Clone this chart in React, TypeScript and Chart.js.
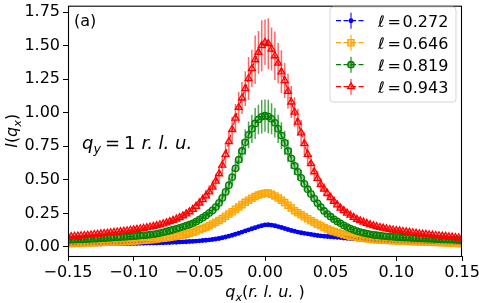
import React, { useEffect, useRef } from "react";
import { Chart, registerables } from "chart.js";

Chart.register(...registerables);

// q_x grid (r.l.u.)
const qx = [
  -0.15, -0.1475, -0.145, -0.1425, -0.14, -0.1375, -0.135, -0.1325, -0.13, -0.1275,
  -0.125, -0.1225, -0.12, -0.1175, -0.115, -0.1125, -0.11, -0.1075, -0.105, -0.1025,
  -0.1, -0.0975, -0.095, -0.0925, -0.09, -0.0875, -0.085, -0.0825, -0.08, -0.0775,
  -0.075, -0.0725, -0.07, -0.0675, -0.065, -0.0625, -0.06, -0.0575, -0.055, -0.0525,
  -0.05, -0.0475, -0.045, -0.0425, -0.04, -0.0375, -0.035, -0.0325, -0.03, -0.0275,
  -0.025, -0.0225, -0.02, -0.0175, -0.015, -0.0125, -0.01, -0.0075, -0.005, -0.0025,
  0,
  0.0025, 0.005, 0.0075, 0.01, 0.0125, 0.015, 0.0175, 0.02, 0.0225, 0.025,
  0.0275, 0.03, 0.0325, 0.035, 0.0375, 0.04, 0.0425, 0.045, 0.0475, 0.05,
  0.0525, 0.055, 0.0575, 0.06, 0.0625, 0.065, 0.0675, 0.07, 0.0725, 0.075,
  0.0775, 0.08, 0.0825, 0.085, 0.0875, 0.09, 0.0925, 0.095, 0.0975, 0.1,
  0.1025, 0.105, 0.1075, 0.11, 0.1125, 0.115, 0.1175, 0.12, 0.1225, 0.125,
  0.1275, 0.13, 0.1325, 0.135, 0.1375, 0.14, 0.1425, 0.145, 0.1475, 0.15,
];

// l = 0.272
const I272 = [
  0.020, 0.020, 0.020, 0.021, 0.021, 0.021, 0.021, 0.022, 0.022, 0.022,
  0.022, 0.023, 0.023, 0.023, 0.024, 0.024, 0.024, 0.025, 0.025, 0.025,
  0.026, 0.026, 0.027, 0.027, 0.028, 0.028, 0.029, 0.029, 0.030, 0.031,
  0.032, 0.033, 0.034, 0.035, 0.036, 0.037, 0.038, 0.040, 0.041, 0.043,
  0.045, 0.047, 0.049, 0.052, 0.055, 0.059, 0.063, 0.068, 0.074, 0.080,
  0.087, 0.094, 0.102, 0.110, 0.119, 0.127, 0.135, 0.143, 0.151, 0.158,
  0.164,
  0.165, 0.162, 0.157, 0.151, 0.144, 0.137, 0.130, 0.122, 0.116, 0.110,
  0.105, 0.101, 0.097, 0.093, 0.089, 0.085, 0.082, 0.079, 0.077, 0.075,
  0.073, 0.071, 0.069, 0.066, 0.064, 0.062, 0.060, 0.058, 0.056, 0.054,
  0.053, 0.051, 0.050, 0.049, 0.048, 0.047, 0.046, 0.045, 0.044, 0.043,
  0.042, 0.041, 0.041, 0.040, 0.039, 0.038, 0.038, 0.037, 0.036, 0.035,
  0.035, 0.034, 0.033, 0.033, 0.032, 0.031, 0.031, 0.030, 0.029, 0.028,
];
const E272 = [
  0.003, 0.003, 0.003, 0.003, 0.003, 0.003, 0.003, 0.003, 0.003, 0.003,
  0.003, 0.003, 0.003, 0.003, 0.003, 0.003, 0.003, 0.003, 0.003, 0.003,
  0.003, 0.003, 0.003, 0.003, 0.003, 0.003, 0.003, 0.003, 0.003, 0.003,
  0.003, 0.003, 0.003, 0.003, 0.003, 0.003, 0.003, 0.003, 0.003, 0.003,
  0.003, 0.003, 0.003, 0.003, 0.003, 0.006, 0.006, 0.006, 0.006, 0.006,
  0.006, 0.006, 0.006, 0.006, 0.006, 0.006, 0.006, 0.006, 0.006, 0.006,
  0.008,
  0.006, 0.006, 0.006, 0.006, 0.006, 0.006, 0.006, 0.006, 0.006, 0.006,
  0.006, 0.006, 0.006, 0.006, 0.006, 0.003, 0.003, 0.003, 0.003, 0.003,
  0.003, 0.003, 0.003, 0.003, 0.003, 0.003, 0.003, 0.003, 0.003, 0.003,
  0.003, 0.003, 0.003, 0.003, 0.003, 0.003, 0.003, 0.003, 0.003, 0.003,
  0.003, 0.003, 0.003, 0.003, 0.003, 0.003, 0.003, 0.003, 0.003, 0.003,
  0.003, 0.003, 0.003, 0.003, 0.003, 0.003, 0.003, 0.003, 0.003, 0.003,
];

// l = 0.646
const I646 = [
  0.025, 0.026, 0.026, 0.027, 0.028, 0.029, 0.029, 0.030, 0.031, 0.032,
  0.033, 0.034, 0.035, 0.036, 0.037, 0.038, 0.039, 0.040, 0.041, 0.043,
  0.044, 0.046, 0.048, 0.050, 0.052, 0.054, 0.056, 0.059, 0.062, 0.065,
  0.068, 0.072, 0.076, 0.080, 0.084, 0.089, 0.095, 0.102, 0.110, 0.119,
  0.128, 0.137, 0.147, 0.158, 0.170, 0.183, 0.197, 0.212, 0.228, 0.245,
  0.262, 0.280, 0.298, 0.315, 0.332, 0.348, 0.362, 0.375, 0.386, 0.395,
  0.400,
  0.401, 0.392, 0.380, 0.365, 0.348, 0.330, 0.310, 0.290, 0.270, 0.255,
  0.240, 0.225, 0.210, 0.195, 0.182, 0.169, 0.157, 0.145, 0.134, 0.124,
  0.115, 0.107, 0.099, 0.092, 0.086, 0.080, 0.075, 0.071, 0.067, 0.064,
  0.061, 0.058, 0.056, 0.054, 0.052, 0.050, 0.049, 0.047, 0.046, 0.045,
  0.044, 0.043, 0.042, 0.041, 0.040, 0.039, 0.038, 0.037, 0.036, 0.035,
  0.034, 0.033, 0.032, 0.031, 0.030, 0.029, 0.028, 0.027, 0.026, 0.025,
];
const E646 = [
  0.005, 0.005, 0.005, 0.005, 0.005, 0.005, 0.005, 0.005, 0.005, 0.005,
  0.005, 0.005, 0.005, 0.005, 0.005, 0.005, 0.005, 0.005, 0.005, 0.005,
  0.005, 0.005, 0.005, 0.005, 0.005, 0.005, 0.005, 0.005, 0.005, 0.005,
  0.005, 0.005, 0.005, 0.005, 0.005, 0.005, 0.005, 0.005, 0.005, 0.005,
  0.008, 0.008, 0.010, 0.010, 0.012, 0.012, 0.014, 0.015, 0.016, 0.018,
  0.019, 0.020, 0.022, 0.023, 0.024, 0.025, 0.026, 0.027, 0.028, 0.028,
  0.030,
  0.030, 0.028, 0.028, 0.027, 0.026, 0.025, 0.024, 0.023, 0.022, 0.020,
  0.019, 0.018, 0.016, 0.015, 0.014, 0.012, 0.012, 0.010, 0.010, 0.008,
  0.008, 0.005, 0.005, 0.005, 0.005, 0.005, 0.005, 0.005, 0.005, 0.005,
  0.005, 0.005, 0.005, 0.005, 0.005, 0.005, 0.005, 0.005, 0.005, 0.005,
  0.005, 0.005, 0.005, 0.005, 0.005, 0.005, 0.005, 0.005, 0.005, 0.005,
  0.005, 0.005, 0.005, 0.005, 0.005, 0.005, 0.005, 0.005, 0.005, 0.005,
];

// l = 0.819
const I819 = [
  0.052, 0.053, 0.054, 0.055, 0.056, 0.057, 0.058, 0.059, 0.061, 0.062,
  0.064, 0.065, 0.067, 0.068, 0.070, 0.071, 0.073, 0.074, 0.076, 0.078,
  0.080, 0.082, 0.084, 0.086, 0.088, 0.091, 0.094, 0.098, 0.103, 0.109,
  0.115, 0.121, 0.128, 0.135, 0.142, 0.150, 0.158, 0.166, 0.176, 0.188,
  0.203, 0.218, 0.234, 0.252, 0.272, 0.297, 0.328, 0.365, 0.410, 0.460,
  0.520, 0.585, 0.650, 0.715, 0.780, 0.835, 0.880, 0.920, 0.950, 0.970,
  0.978,
  0.972, 0.955, 0.925, 0.880, 0.830, 0.775, 0.715, 0.660, 0.605, 0.560,
  0.515, 0.470, 0.430, 0.395, 0.360, 0.325, 0.297, 0.268, 0.245, 0.225,
  0.206, 0.190, 0.176, 0.160, 0.148, 0.137, 0.127, 0.118, 0.111, 0.104,
  0.099, 0.094, 0.090, 0.087, 0.084, 0.081, 0.079, 0.077, 0.075, 0.073,
  0.072, 0.070, 0.069, 0.068, 0.066, 0.065, 0.064, 0.063, 0.061, 0.060,
  0.059, 0.058, 0.057, 0.056, 0.055, 0.054, 0.053, 0.052, 0.051, 0.050,
];
const E819 = [
  0.008, 0.008, 0.008, 0.008, 0.008, 0.008, 0.008, 0.008, 0.008, 0.008,
  0.008, 0.008, 0.008, 0.008, 0.008, 0.008, 0.008, 0.008, 0.008, 0.008,
  0.008, 0.008, 0.008, 0.008, 0.008, 0.008, 0.008, 0.008, 0.010, 0.010,
  0.012, 0.012, 0.014, 0.014, 0.016, 0.016, 0.018, 0.020, 0.022, 0.024,
  0.026, 0.028, 0.030, 0.032, 0.035, 0.038, 0.042, 0.046, 0.050, 0.056,
  0.062, 0.070, 0.078, 0.086, 0.095, 0.100, 0.105, 0.115, 0.110, 0.125,
  0.120,
  0.125, 0.115, 0.110, 0.105, 0.100, 0.090, 0.085, 0.078, 0.070, 0.064,
  0.058, 0.052, 0.047, 0.043, 0.039, 0.035, 0.032, 0.029, 0.026, 0.024,
  0.022, 0.020, 0.018, 0.016, 0.015, 0.014, 0.013, 0.012, 0.011, 0.010,
  0.010, 0.010, 0.008, 0.008, 0.008, 0.008, 0.008, 0.008, 0.008, 0.008,
  0.008, 0.008, 0.008, 0.008, 0.008, 0.008, 0.008, 0.008, 0.008, 0.008,
  0.008, 0.008, 0.008, 0.008, 0.008, 0.008, 0.008, 0.008, 0.008, 0.008,
];

// l = 0.943
const I943 = [
  0.075, 0.077, 0.079, 0.081, 0.083, 0.085, 0.087, 0.089, 0.092, 0.094,
  0.097, 0.099, 0.102, 0.105, 0.108, 0.111, 0.114, 0.117, 0.120, 0.124,
  0.127, 0.131, 0.135, 0.139, 0.143, 0.148, 0.153, 0.159, 0.165, 0.172,
  0.179, 0.188, 0.198, 0.208, 0.219, 0.232, 0.246, 0.262, 0.280, 0.302,
  0.327, 0.353, 0.380, 0.410, 0.445, 0.490, 0.545, 0.610, 0.690, 0.785,
  0.875, 0.960, 1.040, 1.110, 1.180, 1.255, 1.330, 1.395, 1.450, 1.500,
  1.525,
  1.515, 1.475, 1.425, 1.370, 1.305, 1.240, 1.160, 1.080, 1.005, 0.930,
  0.850, 0.770, 0.690, 0.620, 0.560, 0.510, 0.465, 0.430, 0.398, 0.368,
  0.340, 0.313, 0.290, 0.270, 0.252, 0.236, 0.220, 0.206, 0.195, 0.185,
  0.175, 0.166, 0.158, 0.151, 0.145, 0.140, 0.135, 0.130, 0.126, 0.122,
  0.119, 0.115, 0.112, 0.108, 0.105, 0.102, 0.098, 0.095, 0.093, 0.090,
  0.088, 0.085, 0.083, 0.080, 0.078, 0.075, 0.073, 0.070, 0.068, 0.065,
];
const E943 = [
  0.010, 0.010, 0.010, 0.010, 0.010, 0.010, 0.010, 0.010, 0.010, 0.010,
  0.010, 0.010, 0.010, 0.010, 0.010, 0.010, 0.010, 0.010, 0.010, 0.010,
  0.015, 0.015, 0.015, 0.015, 0.015, 0.015, 0.015, 0.015, 0.015, 0.015,
  0.015, 0.015, 0.020, 0.020, 0.025, 0.025, 0.030, 0.030, 0.030, 0.035,
  0.035, 0.040, 0.045, 0.050, 0.050, 0.055, 0.060, 0.070, 0.075, 0.085,
  0.095, 0.105, 0.115, 0.120, 0.130, 0.160, 0.140, 0.180, 0.160, 0.190,
  0.170,
  0.190, 0.160, 0.180, 0.150, 0.160, 0.130, 0.130, 0.120, 0.110, 0.100,
  0.095, 0.085, 0.075, 0.065, 0.060, 0.055, 0.050, 0.045, 0.040, 0.040,
  0.035, 0.030, 0.030, 0.030, 0.025, 0.025, 0.020, 0.020, 0.020, 0.020,
  0.018, 0.016, 0.015, 0.015, 0.015, 0.015, 0.015, 0.015, 0.015, 0.015,
  0.012, 0.012, 0.012, 0.012, 0.012, 0.012, 0.012, 0.012, 0.012, 0.012,
  0.010, 0.010, 0.010, 0.010, 0.010, 0.010, 0.010, 0.010, 0.010, 0.010,
];

const ellValues = ["0.272", "0.646", "0.819", "0.943"];
const xTicks = [-0.15, -0.1, -0.05, 0, 0.05, 0.1, 0.15];
const yTicks = [0, 0.25, 0.5, 0.75, 1, 1.25, 1.5, 1.75];

const FONT = '"DejaVu Sans", sans-serif';

type Piece = { t: string; italic?: boolean; sub?: boolean; dx?: number };

function pieceFont(p: Piece, size: number) {
  return `${p.italic ? "italic " : ""}${p.sub ? size * 0.7 : size}px ${FONT}`;
}

function measureMath(ctx: CanvasRenderingContext2D, pieces: Piece[], size: number) {
  let w = 0;
  for (const p of pieces) {
    ctx.font = pieceFont(p, size);
    w += (p.dx || 0) + ctx.measureText(p.t).width;
  }
  return w;
}

function drawMath(ctx: CanvasRenderingContext2D, pieces: Piece[], x: number, y: number, size: number) {
  let cx = x;
  ctx.textAlign = "left";
  ctx.textBaseline = "alphabetic";
  for (const p of pieces) {
    ctx.font = pieceFont(p, size);
    cx += p.dx || 0;
    ctx.fillText(p.t, cx, y + (p.sub ? size * 0.22 : 0));
    cx += ctx.measureText(p.t).width;
  }
}

function drawMarker(
  ctx: CanvasRenderingContext2D,
  style: string,
  x: number,
  y: number,
  r: number,
  stroke: string,
  fill: string,
  lw: number
) {
  ctx.beginPath();
  if (style === "rect") {
    const s = Math.SQRT1_2 * r;
    ctx.rect(x - s, y - s, 2 * s, 2 * s);
  } else if (style === "triangle") {
    const a = (2 * Math.PI) / 3;
    ctx.moveTo(x, y - r);
    ctx.lineTo(x + Math.sin(a) * r, y - Math.cos(a) * r);
    ctx.lineTo(x + Math.sin(2 * a) * r, y - Math.cos(2 * a) * r);
    ctx.closePath();
  } else {
    ctx.arc(x, y, r, 0, Math.PI * 2);
  }
  ctx.fillStyle = fill;
  ctx.fill();
  ctx.strokeStyle = stroke;
  ctx.lineWidth = lw;
  ctx.stroke();
}

const errorBarPlugin = {
  id: "errorBars",
  beforeDatasetDraw(chart: any, args: any) {
    const ds = chart.data.datasets[args.index];
    const errs: number[] = ds.errors;
    if (!errs) return;
    const { ctx, chartArea } = chart;
    const xs = chart.scales.x;
    const ys = chart.scales.y;
    ctx.save();
    ctx.beginPath();
    ctx.rect(chartArea.left, chartArea.top, chartArea.right - chartArea.left, chartArea.bottom - chartArea.top);
    ctx.clip();
    ctx.strokeStyle = ds.ebColor;
    ctx.lineWidth = ds.ebWidth;
    ctx.setLineDash([]);
    ds.data.forEach((p: { x: number; y: number }, i: number) => {
      const px = xs.getPixelForValue(p.x);
      ctx.beginPath();
      ctx.moveTo(px, ys.getPixelForValue(p.y - errs[i]));
      ctx.lineTo(px, ys.getPixelForValue(p.y + errs[i]));
      ctx.stroke();
    });
    ctx.restore();
  },
};

const decorPlugin = {
  id: "decor",
  afterDatasetsDraw(chart: any) {
    const { ctx, chartArea: a } = chart;
    ctx.save();
    ctx.strokeStyle = "#000";
    ctx.lineWidth = 1.1;
    ctx.setLineDash([]);
    ctx.strokeRect(a.left + 0.5, a.top + 0.5, a.right - a.left - 1, a.bottom - a.top);
    ctx.restore();
  },
  afterDraw(chart: any) {
    const { ctx, chartArea: a } = chart;
    ctx.save();
    ctx.fillStyle = "#000";

    // panel label
    ctx.font = `16px ${FONT}`;
    ctx.textAlign = "left";
    ctx.textBaseline = "alphabetic";
    ctx.fillText("(a)", a.left + 6, a.top + 20);

    // annotation
    drawMath(
      ctx,
      [
        { t: "q", italic: true },
        { t: "y", italic: true, sub: true },
        { t: "=", dx: 4 },
        { t: "1", dx: 4 },
        { t: "r. l. u.", italic: true, dx: 6 },
      ],
      a.left + 14,
      149,
      18
    );

    // x title
    const xPieces: Piece[] = [
      { t: "q", italic: true },
      { t: "x", italic: true, sub: true },
      { t: "(" },
      { t: "r. l. u. ", italic: true },
      { t: ")" },
    ];
    const xw = measureMath(ctx, xPieces, 16);
    drawMath(ctx, xPieces, (a.left + a.right) / 2 - xw / 2, 297, 16);

    // y title
    const yPieces: Piece[] = [
      { t: "I", italic: true },
      { t: "(" },
      { t: "q", italic: true },
      { t: "x", italic: true, sub: true },
      { t: ")" },
    ];
    const yw = measureMath(ctx, yPieces, 16);
    ctx.save();
    ctx.translate(17, (a.top + a.bottom) / 2);
    ctx.rotate(-Math.PI / 2);
    drawMath(ctx, yPieces, -yw / 2, 0, 16);
    ctx.restore();
    ctx.restore();

    // legend frame: soft light-grey rounded box
    const bx = 330, by = 7, bw = 126, bh = 95;
    ctx.save();
    ctx.setLineDash([]);
    ctx.fillStyle = "rgba(255,255,255,0.85)";
    ctx.beginPath();
    if ((ctx as any).roundRect) (ctx as any).roundRect(bx, by, bw, bh, 3);
    else ctx.rect(bx, by, bw, bh);
    ctx.fill();
    ctx.strokeStyle = "rgba(204,204,204,0.8)";
    ctx.lineWidth = 1;
    ctx.stroke();
    ctx.restore();

    chart.data.datasets.forEach((ds: any, i: number) => {
      const ry = 20.7 + i * 22;
      ctx.save();
      ctx.strokeStyle = ds.borderColor;
      ctx.lineWidth = 1.2;
      ctx.setLineDash([5, 2.5]);
      ctx.beginPath();
      ctx.moveTo(336, ry);
      ctx.lineTo(366, ry);
      ctx.stroke();
      ctx.setLineDash([]);
      ctx.strokeStyle = ds.ebColor;
      ctx.lineWidth = 1.5;
      ctx.beginPath();
      ctx.moveTo(351, ry - 8);
      ctx.lineTo(351, ry + 8);
      ctx.stroke();
      drawMarker(ctx, ds.pointStyle, 351, ry, ds.pointRadius, ds.borderColor, ds.legendFill, ds.pointBorderWidth);
      ctx.fillStyle = "#000";
      drawMath(
        ctx,
        [{ t: "\u2113" }, { t: "=", dx: 3 }, { t: ellValues[i], dx: 1.5 }],
        378,
        ry + 5.8,
        16
      );
      ctx.restore();
    });
  },
};

export default function App() {
  const ref = useRef<HTMLCanvasElement>(null);

  useEffect(() => {
    const canvas = ref.current;
    if (!canvas) return;

    const series = [
      { vals: I272, errs: E272, color: "#0000ff", fill: "#0000ff", legendFill: "#0000ff", style: "circle", r: 1.8, eb: "rgba(0,0,255,0.7)" },
      { vals: I646, errs: E646, color: "#ffa500", fill: "rgba(255,165,0,0.45)", legendFill: "rgba(255,165,0,0.45)", style: "rect", r: 4.4, eb: "rgba(255,165,0,0.75)" },
      { vals: I819, errs: E819, color: "#008000", fill: "rgba(0,128,0,0.35)", legendFill: "rgba(0,128,0,0.6)", style: "circle", r: 3.2, eb: "rgba(0,128,0,0.7)" },
      { vals: I943, errs: E943, color: "#ff0000", fill: "rgba(255,0,0,0.25)", legendFill: "rgba(255,0,0,0.25)", style: "triangle", r: 4, eb: "rgba(255,0,0,0.6)" },
    ];

    const datasets = series.map((s, k) => ({
      label: "\u2113 = " + ellValues[k],
      data: qx.map((x, i) => ({ x, y: s.vals[i] })),
      errors: s.errs,
      ebColor: s.eb,
      ebWidth: 1.5,
      legendFill: s.legendFill,
      borderColor: s.color,
      backgroundColor: s.fill,
      borderWidth: 1.2,
      borderDash: [5, 2.5],
      pointStyle: s.style,
      pointRadius: s.r,
      pointBorderWidth: 1.3,
      pointBorderColor: s.color,
      pointBackgroundColor: s.fill,
      fill: false,
      tension: 0,
      order: 3 - k,
    }));

    const chart = new Chart(canvas, {
      type: "line",
      data: { datasets: datasets as any },
      options: {
        responsive: false,
        devicePixelRatio: 1,
        animation: false,
        events: [],
        layout: { padding: { left: 0, right: 17, top: 1, bottom: 0 } },
        plugins: { legend: { display: false }, tooltip: { enabled: false } },
        scales: {
          x: {
            type: "linear",
            min: -0.15,
            max: 0.15,
            afterBuildTicks: (scale: any) => {
              scale.ticks = xTicks.map((v) => ({ value: v }));
            },
            afterFit: (scale: any) => {
              scale.height = 47;
              scale.paddingLeft = 0;
              scale.paddingRight = 0;
            },
            grid: { display: true, drawOnChartArea: false, drawTicks: true, tickLength: 5, color: "#000", lineWidth: 1 },
            border: { display: false },
            ticks: {
              autoSkip: false,
              maxRotation: 0,
              padding: 2,
              color: "#000",
              font: { family: FONT, size: 16 },
              callback: (v: any) => Number(v).toFixed(2).replace("-", "\u2212"),
            },
          },
          y: {
            type: "linear",
            min: -0.068,
            max: 1.798,
            afterBuildTicks: (scale: any) => {
              scale.ticks = yTicks.map((v) => ({ value: v }));
            },
            afterFit: (scale: any) => {
              scale.width = 68;
              scale.paddingTop = 0;
              scale.paddingBottom = 0;
            },
            grid: { display: true, drawOnChartArea: false, drawTicks: true, tickLength: 5, color: "#000", lineWidth: 1 },
            border: { display: false },
            ticks: {
              autoSkip: false,
              padding: 3,
              color: "#000",
              font: { family: FONT, size: 16 },
              callback: (v: any) => Number(v).toFixed(2),
            },
          },
        },
      },
      plugins: [errorBarPlugin, decorPlugin],
    });

    return () => chart.destroy();
  }, []);

  return (
    <div style={{ position: "fixed", left: 0, top: 0, width: 479, height: 303, background: "#fff" }}>
      <canvas ref={ref} width={479} height={303} style={{ display: "block", width: 479, height: 303 }} />
    </div>
  );
}
